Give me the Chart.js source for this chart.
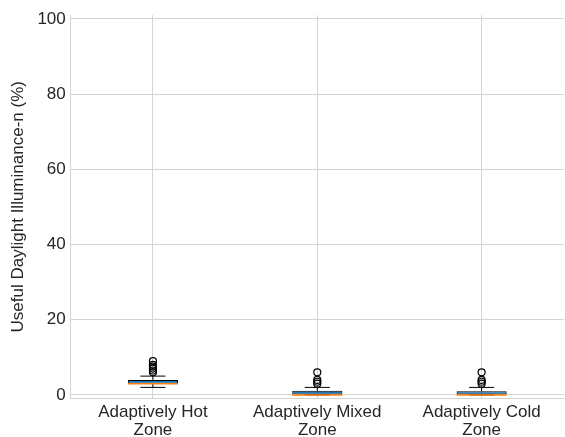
<!DOCTYPE html>
<html>
<head>
<meta charset="utf-8">
<script src="https://cdn.jsdelivr.net/npm/chart.js@4"></script>
<style>
  html, body { margin: 0; padding: 0; background: #fff; overflow: hidden; }
  #wrap { width: 569px; height: 437px; }
</style>
</head>
<body>
<div id="wrap"><canvas id="boxChart"></canvas></div>
<script>
// box plot data
const zones = ['Adaptively Hot Zone', 'Adaptively Mixed Zone', 'Adaptively Cold Zone'];
const q1 = [3, 0, 0];
const q3 = [4, 1.1, 1];
const medians = [3, 0, 0];
const whiskerLow = [2, 0, 0];
const whiskerHigh = [5, 2, 2];
const outliers = [
    [6, 6.5, 7, 7.5, 8, 9],
    [3, 3.5, 4, 6],
    [3, 3.5, 4, 6]
];
const yTicks = [0, 20, 40, 60, 80, 100];

const gridColor = '#d4d4d4';
const textColor = '#262626';

// outlier points as {x, y} on the category axis
const outlierPoints = [];
outliers.forEach((list, i) => {
    list.forEach(v => outlierPoints.push({ x: zones[i], y: v }));
});

// whiskers, caps and median lines, drawn through the chart scales
const boxExtras = {
    id: 'boxExtras',
    afterDatasetsDraw(chart) {
        const ctx = chart.ctx;
        const x = chart.scales.x;
        const y = chart.scales.y;
        const meta = chart.getDatasetMeta(0);
        ctx.save();
        meta.data.forEach((bar, i) => {
            const cx = x.getPixelForValue(i);
            const half = bar.width / 2;
            ctx.strokeStyle = '#000';
            ctx.lineWidth = 1;
            ctx.beginPath();
            ctx.moveTo(cx, y.getPixelForValue(q3[i]));
            ctx.lineTo(cx, y.getPixelForValue(whiskerHigh[i]));
            ctx.moveTo(cx, y.getPixelForValue(q1[i]));
            ctx.lineTo(cx, y.getPixelForValue(whiskerLow[i]));
            ctx.moveTo(cx - half / 2, y.getPixelForValue(whiskerHigh[i]));
            ctx.lineTo(cx + half / 2, y.getPixelForValue(whiskerHigh[i]));
            ctx.moveTo(cx - half / 2, y.getPixelForValue(whiskerLow[i]));
            ctx.lineTo(cx + half / 2, y.getPixelForValue(whiskerLow[i]));
            ctx.stroke();
            ctx.strokeStyle = '#ff7f0e';
            ctx.lineWidth = 1.5;
            ctx.beginPath();
            ctx.moveTo(cx - half, y.getPixelForValue(medians[i]));
            ctx.lineTo(cx + half, y.getPixelForValue(medians[i]));
            ctx.stroke();
        });
        ctx.restore();
    }
};

const ctx = document.getElementById('boxChart').getContext('2d');
new Chart(ctx, {
    type: 'bar',
    data: {
        labels: zones,
        datasets: [{
            data: q1.map((v, i) => [v, q3[i]]),
            backgroundColor: '#1f77b4',
            borderColor: '#000',
            borderWidth: 1,
            borderSkipped: false,
            barPercentage: 1,
            categoryPercentage: 0.305
        }, {
            type: 'scatter',
            data: outlierPoints,
            showLine: false,
            pointRadius: 3.5,
            pointBorderWidth: 1.2,
            pointBorderColor: '#000',
            pointBackgroundColor: 'rgba(0,0,0,0)'
        }]
    },
    options: {
        responsive: true,
        maintainAspectRatio: false,
        animation: false,
        layout: { padding: { top: -6, right: 0, bottom: -7, left: 8 } },
        plugins: {
            legend: { display: false },
            tooltip: { enabled: false }
        },
        scales: {
            x: {
                type: 'category',
                offset: true,
                grid: { offset: false, color: gridColor, drawTicks: false },
                border: { color: gridColor },
                ticks: {
                    color: textColor,
                    padding: 5,
                    maxRotation: 0,
                    font: { family: 'Liberation Sans', size: 17, lineHeight: 1.05 },
                    callback: function (value) {
                        const label = this.getLabelForValue(value);
                        const cut = label.lastIndexOf(' ');
                        return [label.slice(0, cut), label.slice(cut + 1)];
                    }
                }
            },
            y: {
                min: -0.9,
                max: 101,
                afterBuildTicks: axis => { axis.ticks = yTicks.map(v => ({ value: v })); },
                grid: { color: gridColor, drawTicks: false },
                border: { color: gridColor },
                ticks: {
                    color: textColor,
                    padding: 5,
                    font: { family: 'Liberation Sans', size: 17 }
                },
                title: {
                    display: true,
                    text: 'Useful Daylight Illuminance-n (%)',
                    color: textColor,
                    padding: { top: 0, bottom: 4 },
                    font: { family: 'Liberation Sans', size: 17 }
                }
            }
        }
    },
    plugins: [boxExtras]
});
</script>
</body>
</html>
